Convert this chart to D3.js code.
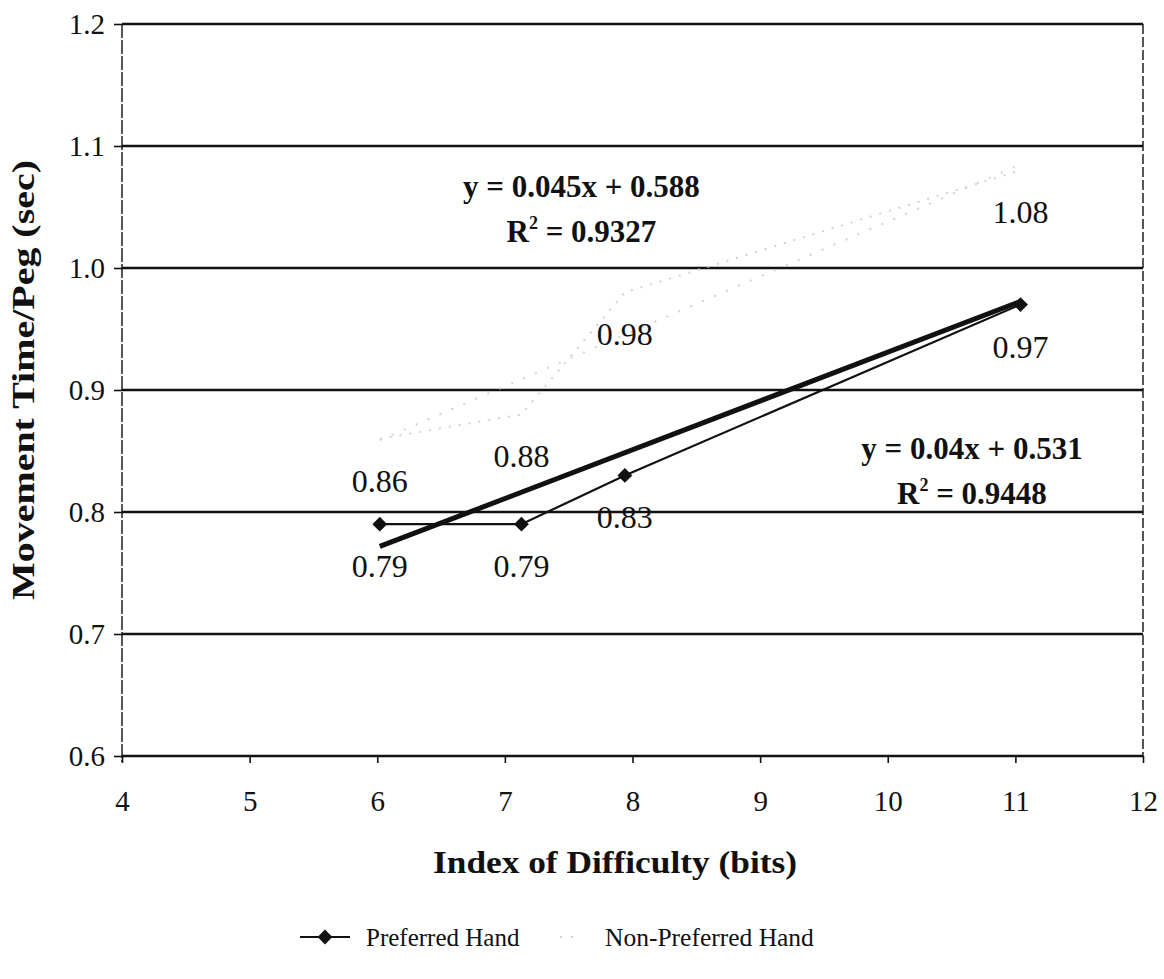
<!DOCTYPE html>
<html><head><meta charset="utf-8">
<script src="https://cdn.jsdelivr.net/npm/d3@7"></script>
<style>
html,body{margin:0;padding:0;background:#fff;}
svg{display:block;font-family:"Liberation Serif","Times New Roman",serif;}
svg text{font-family:"Liberation Serif","Times New Roman",serif;}
</style></head>
<body><svg id="c" width="1164" height="979"></svg>
<script>
// ---- data ----
const indexOfDifficulty = [6.02, 7.13, 7.94, 11.04];
const preferredHand = [0.79, 0.79, 0.83, 0.97];
const nonPreferredHand = [0.86, 0.88, 0.98, 1.08];
const preferredTrend = {slope: 0.04, intercept: 0.531, r2: 0.9448};
const nonPreferredTrend = {slope: 0.045, intercept: 0.588, r2: 0.9327};
const xTicks = [4, 5, 6, 7, 8, 9, 10, 11, 12];
const yTicks = [0.6, 0.7, 0.8, 0.9, 1.0, 1.1, 1.2];
const seriesNames = ["Preferred Hand", "Non-Preferred Hand"];
const xTitle = "Index of Difficulty (bits)";
const yTitle = "Movement Time/Peg (sec)";

// ---- layout ----
const svg = d3.select("#c");
const x = d3.scaleLinear().domain([4, 12]).range([122, 1143]);
const y = d3.scaleLinear().domain([0.6, 1.2]).range([756, 24]);
const ink = "#111";
const faint = "#d2d2d2";

// gridlines
svg.append("g").selectAll("line").data(yTicks).join("line")
  .attr("x1", x(4)).attr("x2", x(12))
  .attr("y1", d => y(d)).attr("y2", d => y(d))
  .attr("stroke", ink).attr("stroke-width", 2.4);

// plot border left/right
svg.append("line").attr("x1", x(4)).attr("x2", x(4)).attr("y1", y(1.2)).attr("y2", y(0.6)+6)
  .attr("stroke", ink).attr("stroke-width", 1.4).attr("stroke-dasharray", "14,2");
svg.append("line").attr("x1", x(12)).attr("x2", x(12)).attr("y1", y(1.2)).attr("y2", y(0.6))
  .attr("stroke", ink).attr("stroke-width", 1.4).attr("stroke-dasharray", "10,3");

// axes
const yAxis = d3.axisLeft(y).tickValues(yTicks).tickFormat(d3.format(".1f")).tickSize(8).tickPadding(9);
const gy = svg.append("g").attr("transform", `translate(${x(4)},0)`).call(yAxis);
gy.select(".domain").remove();
gy.selectAll("line").attr("stroke", ink).attr("stroke-width", 1.6);
gy.selectAll("text").attr("font-size", 29).attr("fill", ink).attr("font-family", "Liberation Serif");

const xAxis = d3.axisBottom(x).tickValues(xTicks).tickFormat(d3.format("d")).tickSize(7).tickPadding(27);
const gx = svg.append("g").attr("transform", `translate(0,${y(0.6)})`).call(xAxis);
gx.select(".domain").remove();
gx.selectAll("line").attr("stroke", ink).attr("stroke-width", 1.6);
gx.selectAll("text").attr("font-size", 29).attr("fill", ink).attr("font-family", "Liberation Serif");

// axis titles
svg.append("text").attr("x", 615).attr("y", 873).attr("text-anchor", "middle")
  .attr("font-size", 31).attr("font-weight", "bold").attr("fill", ink)
  .attr("textLength", 364).attr("lengthAdjust", "spacingAndGlyphs").text(xTitle);
svg.append("text").attr("transform", "translate(34,380) rotate(-90)").attr("text-anchor", "middle")
  .attr("font-size", 31).attr("font-weight", "bold").attr("fill", ink)
  .attr("textLength", 440).attr("lengthAdjust", "spacingAndGlyphs").text(yTitle);

// series
const pts = (vals) => indexOfDifficulty.map((xv, i) => [xv, vals[i]]);
const line = d3.line().x(d => x(d[0])).y(d => y(d[1]));
const xExt = d3.extent(indexOfDifficulty);

// non-preferred (faint)
svg.append("path").datum(pts(nonPreferredHand)).attr("d", line)
  .attr("fill", "none").attr("stroke", faint).attr("stroke-width", 2).attr("stroke-dasharray", "2,8");
svg.append("path").datum(xExt.map(v => [v, nonPreferredTrend.slope * v + nonPreferredTrend.intercept])).attr("d", line)
  .attr("fill", "none").attr("stroke", faint).attr("stroke-width", 2).attr("stroke-dasharray", "2,11");

// preferred series
svg.append("path").datum(pts(preferredHand)).attr("d", line)
  .attr("fill", "none").attr("stroke", ink).attr("stroke-width", 2.2);
// preferred trend
svg.append("path").datum(xExt.map(v => [v, preferredTrend.slope * v + preferredTrend.intercept])).attr("d", line)
  .attr("fill", "none").attr("stroke", ink).attr("stroke-width", 5);

const diamond = d3.symbol(d3.symbolSquare, 110);
svg.append("g").selectAll("path").data(pts(preferredHand)).join("path")
  .attr("d", diamond).attr("transform", d => `translate(${x(d[0])},${y(d[1])}) rotate(45)`)
  .attr("fill", ink);

// data labels (below)
const lbl = (vals) => svg.append("g").selectAll("text").data(pts(vals)).join("text")
  .attr("x", d => x(d[0])).attr("y", d => y(d[1]) + 53).attr("text-anchor", "middle")
  .attr("font-size", 32).attr("fill", ink).text(d => d3.format(".2f")(d[1]));
lbl(preferredHand);
lbl(nonPreferredHand);

// trendline equations
const annotations = [
  {x: 7.6, y: 1.066, lines: [`y = ${nonPreferredTrend.slope}x + ${nonPreferredTrend.intercept}`, `R2 = ${nonPreferredTrend.r2}`]},
  {x: 10.66, y: 0.852, lines: [`y = ${preferredTrend.slope}x + ${preferredTrend.intercept}`, `R2 = ${preferredTrend.r2}`]}
];
annotations.forEach(a => {
  const t = svg.append("text").attr("text-anchor", "middle").attr("font-size", 31)
    .attr("font-weight", "bold").attr("fill", ink);
  t.append("tspan").attr("x", x(a.x)).attr("y", y(a.y) + 10).text(a.lines[0]);
  const t2 = t.append("tspan").attr("x", x(a.x)).attr("y", y(a.y) + 55);
  t2.append("tspan").text("R");
  t2.append("tspan").attr("font-size", 18).attr("dy", -13).text("2");
  t2.append("tspan").attr("dy", 13).text(a.lines[1].replace("R2", ""));
});

// legend
const lg = svg.append("g").attr("transform", "translate(0,937)");
lg.append("line").attr("x1", 300).attr("x2", 350).attr("stroke", ink).attr("stroke-width", 2.2);
lg.append("path").attr("d", diamond).attr("transform", "translate(325,0) rotate(45)").attr("fill", ink);
lg.append("text").attr("x", 366).attr("y", 9).attr("font-size", 25).attr("fill", ink).text(seriesNames[0]);
lg.append("line").attr("x1", 560).attr("x2", 575).attr("stroke", faint).attr("stroke-width", 2).attr("stroke-dasharray", "2,9");
lg.append("text").attr("x", 605).attr("y", 9).attr("font-size", 25.5).attr("fill", ink).text(seriesNames[1]);
</script></body></html>
